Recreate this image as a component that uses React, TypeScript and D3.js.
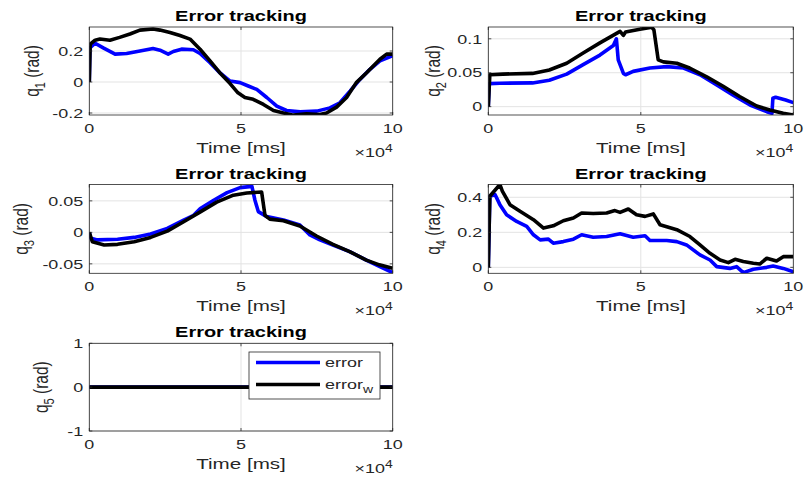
import * as d3 from 'd3';

// time values are in units of 1e4 ms (the axis shows "x10^4")
const xTicks = [0, 5, 10];

const q1Error: [number, number][] = [
  [0, 0], [0.02, 0.22], [0.19, 0.25], [0.46, 0.22], [0.85, 0.18], [1.23, 0.184], [1.67, 0.2],
  [2.1, 0.216], [2.33, 0.205], [2.6, 0.18], [2.77, 0.197], [3.04, 0.212], [3.43, 0.208],
  [3.65, 0.184], [3.98, 0.125], [4.3, 0.06], [4.64, 0.006], [4.97, -0.004], [5.24, -0.026],
  [5.52, -0.048], [5.85, -0.1], [6.18, -0.156], [6.5, -0.184], [6.95, -0.193], [7.5, -0.188],
  [7.93, -0.167], [8.26, -0.134], [8.6, -0.058], [8.87, 0.006], [9.25, 0.082], [9.58, 0.136],
  [10, 0.17],
];
const q1ErrorW: [number, number][] = [
  [0, 0], [0.03, 0.245], [0.19, 0.27], [0.35, 0.277], [0.68, 0.27], [1.0, 0.288], [1.34, 0.31],
  [1.67, 0.335], [2.1, 0.342], [2.33, 0.335], [2.66, 0.32], [2.99, 0.3], [3.32, 0.277],
  [3.65, 0.212], [3.98, 0.136], [4.3, 0.06], [4.64, -0.01], [4.9, -0.07], [5.13, -0.1],
  [5.4, -0.112], [5.74, -0.145], [6.07, -0.184], [6.4, -0.2], [6.73, -0.214], [7.16, -0.205],
  [7.6, -0.21], [7.82, -0.2], [8.15, -0.162], [8.48, -0.1], [8.8, -0.004], [9.14, 0.06],
  [9.58, 0.147], [9.8, 0.18], [10, 0.18],
];

const q2Error: [number, number][] = [
  [0, 0], [0.03, 0.034], [0.38, 0.0345], [1.45, 0.035], [2.0, 0.039], [2.57, 0.048], [3.11, 0.062],
  [3.66, 0.076], [4.1, 0.09], [4.2, 0.1], [4.26, 0.069], [4.43, 0.049], [4.5, 0.047], [4.75, 0.052],
  [5.3, 0.057], [5.85, 0.059], [6.4, 0.057], [6.94, 0.047], [7.49, 0.032], [8.03, 0.017],
  [8.58, 0.0025], [9.13, -0.0074], [9.3, -0.0099], [9.33, 0.0123], [9.42, 0.0138], [9.75, 0.0098],
  [10, 0.006],
];
const q2ErrorW: [number, number][] = [
  [0, 0], [0.05, 0.047], [0.48, 0.048], [1.45, 0.049], [2.0, 0.054], [2.57, 0.064], [3.11, 0.079],
  [3.66, 0.094], [4.32, 0.111], [4.43, 0.105], [4.5, 0.11], [4.97, 0.114], [5.36, 0.117],
  [5.43, 0.113], [5.57, 0.069], [5.74, 0.066], [6.18, 0.064], [6.6, 0.057], [7.16, 0.044],
  [7.7, 0.03], [8.24, 0.015], [8.8, 0.001], [9.23, -0.005], [9.67, -0.0099], [10, -0.0123],
];

const q3Error: [number, number][] = [
  [0, 0], [0.05, -0.0095], [0.27, -0.012], [0.93, -0.011], [1.48, -0.008], [2.02, -0.0026],
  [2.57, 0.0063], [3.11, 0.0195], [3.44, 0.027], [3.66, 0.038], [4.1, 0.051], [4.54, 0.063],
  [4.97, 0.071], [5.36, 0.073], [5.46, 0.051], [5.57, 0.033], [5.85, 0.025], [6.4, 0.0195],
  [6.94, 0.0116], [7.27, -0.004], [7.6, -0.012], [8.03, -0.02], [8.58, -0.0305], [9.13, -0.044],
  [9.56, -0.054], [10, -0.064],
];
const q3ErrorW: [number, number][] = [
  [0, 0], [0.1, -0.015], [0.49, -0.02], [0.93, -0.019], [1.48, -0.015], [2.02, -0.008],
  [2.57, 0.002], [3.11, 0.0168], [3.66, 0.0326], [4.2, 0.048], [4.75, 0.059], [5.19, 0.0626],
  [5.68, 0.064], [5.79, 0.027], [5.95, 0.021], [6.4, 0.0184], [6.94, 0.01], [7.49, -0.0058],
  [8.03, -0.019], [8.58, -0.0305], [9.13, -0.044], [9.56, -0.0516], [10, -0.057],
];

const q4Error: [number, number][] = [
  [0, 0], [0.05, 0.406], [0.22, 0.416], [0.38, 0.358], [0.6, 0.3], [0.93, 0.262], [1.26, 0.234],
  [1.48, 0.186], [1.7, 0.157], [1.97, 0.161], [2.13, 0.138], [2.46, 0.147], [2.79, 0.161],
  [3.06, 0.186], [3.44, 0.172], [3.88, 0.176], [4.32, 0.192], [4.75, 0.172], [5.14, 0.18],
  [5.3, 0.153], [5.85, 0.153], [6.18, 0.147], [6.5, 0.128], [6.94, 0.071], [7.27, 0.042],
  [7.49, 0.004], [7.92, -0.006], [8.14, 0.004], [8.36, -0.03], [8.69, -0.011], [9.13, 0],
  [9.34, 0.008], [9.67, -0.006], [10, -0.025],
];
const q4ErrorW: [number, number][] = [
  [0, 0], [0.05, 0.406], [0.38, 0.473], [0.46, 0.435], [0.71, 0.358], [1.04, 0.32], [1.48, 0.272],
  [1.81, 0.224], [2.13, 0.237], [2.46, 0.266], [2.79, 0.282], [3.06, 0.31], [3.44, 0.307],
  [3.88, 0.31], [4.15, 0.324], [4.32, 0.314], [4.59, 0.333], [4.86, 0.3], [5.14, 0.291],
  [5.41, 0.305], [5.63, 0.243], [6.18, 0.215], [6.61, 0.176], [6.94, 0.128], [7.27, 0.08],
  [7.6, 0.042], [7.87, 0.027], [8.09, 0.046], [8.36, 0.033], [8.69, 0.023], [8.9, 0.019],
  [9.13, 0.052], [9.45, 0.036], [9.67, 0.061], [10, 0.061],
];

const q5Error: [number, number][] = [[0, 0], [10, 0]];
const q5ErrorW: [number, number][] = [[0, 0], [10, 0]];

const yDomains: [number, number][] = [
  [-0.213, 0.355], [-0.0123, 0.1174], [-0.065, 0.076], [-0.034, 0.473], [-1, 1],
];
const yTicks = [
  [-0.2, 0, 0.2], [0, 0.05, 0.1], [-0.05, 0, 0.05], [0, 0.2, 0.4], [-1, 0, 1],
];
const seriesNames = ['error', 'error'];

// layout
const W = 805;
const H = 481;
const SX = 1.33; // the reference text is stretched horizontally
const FONT = '"Liberation Sans", Arial, Helvetica, sans-serif';
const AX = '#262626';
const LW = 3.6;
const cols: [number, number][] = [[89.3, 392.7], [488.3, 793.3]];
const rows: [number, number][] = [[27, 115], [184.5, 273.3], [343.3, 431]];
const labelOffsets = [50, 48, 61, 48, 41];

const panels = [
  { err: q1Error, errW: q1ErrorW },
  { err: q2Error, errW: q2ErrorW },
  { err: q3Error, errW: q3ErrorW },
  { err: q4Error, errW: q4ErrorW },
  { err: q5Error, errW: q5ErrorW },
];

function T({ x, y, size = 13.5, anchor = 'start', weight = 'normal', rot = false, children }: any) {
  return (
    <text
      transform={`translate(${x},${y}) scale(${SX},1)${rot ? ' rotate(-90)' : ''}`}
      fontSize={size}
      fontFamily={FONT}
      fontWeight={weight}
      textAnchor={anchor}
      fill={weight === 'bold' ? '#000' : AX}
    >
      {children}
    </text>
  );
}

function Panel({ i }: { i: number }) {
  const [x0, x1] = cols[i % 2];
  const [y0, y1] = rows[Math.floor(i / 2)];
  const x = d3.scaleLinear().domain([0, 10]).range([x0, x1]);
  const y = d3.scaleLinear().domain(yDomains[i]).range([y1, y0]);
  const line = d3.line<[number, number]>().x(d => x(d[0])).y(d => y(d[1]));
  const p = panels[i];
  const cx = (x0 + x1) / 2;
  const cy = (y0 + y1) / 2;
  const tl = 3;
  return (
    <g>
      <defs>
        <clipPath id={`clip${i}`}>
          <rect x={x0} y={y0} width={x1 - x0} height={y1 - y0} />
        </clipPath>
      </defs>
      <rect x={x0} y={y0} width={x1 - x0} height={y1 - y0} fill="#fff" />
      {/* grid */}
      {xTicks.map(t => (
        <line key={'gx' + t} x1={x(t)} x2={x(t)} y1={y0} y2={y1} stroke="#e3e3e3" strokeWidth={1} />
      ))}
      {yTicks[i].map(t => (
        <line key={'gy' + t} x1={x0} x2={x1} y1={y(t)} y2={y(t)} stroke="#e3e3e3" strokeWidth={1} />
      ))}
      {/* series */}
      <g clipPath={`url(#clip${i})`}>
        <path d={line(p.err) || ''} fill="none" stroke="#0000ff" strokeWidth={LW} strokeLinejoin="round" />
        <path d={line(p.errW) || ''} fill="none" stroke="#000" strokeWidth={LW} strokeLinejoin="round" />
      </g>
      {/* box + ticks */}
      <rect x={x0} y={y0} width={x1 - x0} height={y1 - y0} fill="none" stroke={AX} strokeWidth={0.8} />
      {xTicks.map(t => (
        <g key={'tx' + t}>
          <line x1={x(t)} x2={x(t)} y1={y1} y2={y1 - tl} stroke={AX} strokeWidth={0.8} />
          <line x1={x(t)} x2={x(t)} y1={y0} y2={y0 + tl} stroke={AX} strokeWidth={0.8} />
          <T x={x(t)} y={y1 + 18} anchor="middle">{String(t)}</T>
        </g>
      ))}
      {yTicks[i].map(t => (
        <g key={'ty' + t}>
          <line x1={x0} x2={x0 + tl} y1={y(t)} y2={y(t)} stroke={AX} strokeWidth={0.8} />
          <line x1={x1} x2={x1 - tl} y1={y(t)} y2={y(t)} stroke={AX} strokeWidth={0.8} />
          <T x={x0 - 6} y={y(t) + 4.7} anchor="end">{String(t)}</T>
        </g>
      ))}
      <T x={cx} y={y0 - 6} size={15} anchor="middle" weight="bold">Error tracking</T>
      <T x={cx} y={y1 + 38} size={15.5} anchor="middle">Time [ms]</T>
      <T x={x1} y={y1 + 42} size={13.5} anchor="end">
        <tspan>{'\u00d710'}</tspan>
        <tspan dy={-5} fontSize={10.5}>4</tspan>
      </T>
      <T x={x0 - labelOffsets[i]} y={cy} size={15.5} anchor="middle" rot>
        <tspan>q</tspan>
        <tspan dy={4} fontSize={11}>{String(i + 1)}</tspan>
        <tspan dy={-4}>{' (rad)'}</tspan>
      </T>
      {i === 4 && (
        <g>
          <rect x={249} y={352} width={131} height={47} fill="#fff" stroke={AX} strokeWidth={0.8} />
          <line x1={256} x2={320} y1={362.5} y2={362.5} stroke="#0000ff" strokeWidth={LW} />
          <line x1={256} x2={320} y1={384.5} y2={384.5} stroke="#000" strokeWidth={LW} />
          <T x={325} y={367}>{seriesNames[0]}</T>
          <T x={325} y={389}>
            <tspan>{seriesNames[1]}</tspan>
            <tspan dy={4} fontSize={10.5}>w</tspan>
          </T>
        </g>
      )}
    </g>
  );
}

export default function App() {
  return (
    <div style={{ position: 'absolute', left: 0, top: 0 }}>
      <svg width={W} height={H} viewBox={`0 0 ${W} ${H}`} style={{ display: 'block', background: '#fff' }}>
        {panels.map((_, i) => (
          <Panel key={i} i={i} />
        ))}
      </svg>
    </div>
  );
}
